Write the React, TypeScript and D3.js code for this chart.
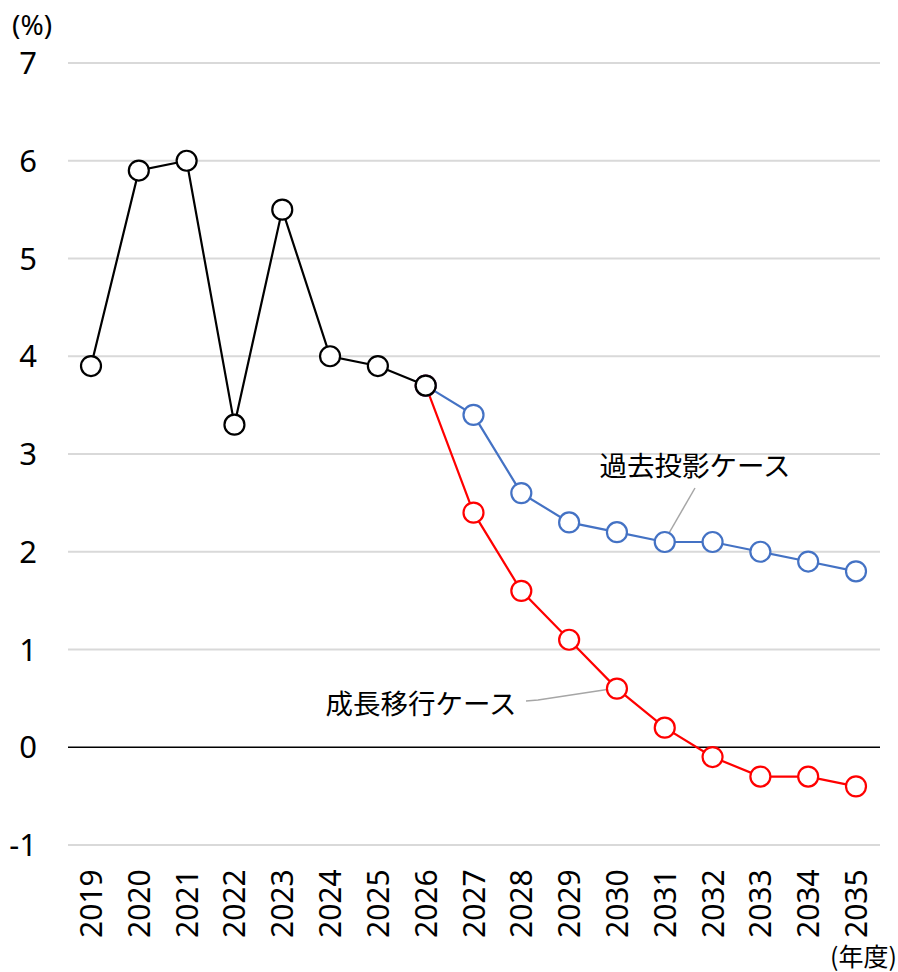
import React, { useEffect, useRef } from "react";
import * as d3 from "d3";

const years = [2019, 2020, 2021, 2022, 2023, 2024, 2025, 2026, 2027, 2028, 2029, 2030, 2031, 2032, 2033, 2034, 2035];
const actual = [3.9, 5.9, 6.0, 3.3, 5.5, 4.0, 3.9, 3.7];
const pastProjection = [3.7, 3.4, 2.6, 2.3, 2.2, 2.1, 2.1, 2.0, 1.9, 1.8];
const growthTransition = [3.7, 2.4, 1.6, 1.1, 0.6, 0.2, -0.1, -0.3, -0.3, -0.4];
const yTicks = [-1, 0, 1, 2, 3, 4, 5, 6, 7];

const W = 898;
const H = 972;
const font = "'Noto Sans', 'Noto Sans CJK JP', sans-serif";
const jpFont = "'Noto Sans CJK JP', sans-serif";

export default function App() {
    const svgRef = useRef<SVGSVGElement>(null);

    useEffect(() => {
        const svg = d3.select(svgRef.current);
        svg.selectAll("*").remove();

        const x = d3.scalePoint<number>().domain(years).range([91, 856]);
        const y = d3.scaleLinear().domain([-1, 7]).range([845, 63]);

        // gridlines
        svg.append("g").selectAll("line").data(yTicks).enter().append("line")
            .attr("x1", 68).attr("x2", 880)
            .attr("y1", d => y(d)).attr("y2", d => y(d))
            .style("stroke", d => d === 0 ? "#000" : "#d9d9d9")
            .style("stroke-width", d => d === 0 ? 1.5 : 2);

        // y tick labels
        svg.append("g").selectAll("text").data(yTicks).enter().append("text")
            .attr("x", 37).attr("y", d => y(d))
            .attr("dy", "0.36em")
            .attr("text-anchor", "end")
            .style("font-family", font).style("font-size", "31px")
            .text(d => d);

        // x tick labels (rotated)
        svg.append("g").selectAll("text").data(years).enter().append("text")
            .attr("transform", d => `translate(${x(d)! + 11},938) rotate(-90)`)
            .attr("text-anchor", "start")
            .style("font-family", font).style("font-size", "30px")
            .text(d => d);

        svg.append("text").attr("x", 12).attr("y", 35)
            .style("font-family", font).style("font-size", "28px").text("(%)");
        svg.append("text").attr("x", 897).attr("y", 966).attr("text-anchor", "end")
            .style("font-family", jpFont).style("font-size", "25px").text("(年度)");

        // leader lines
        svg.append("line").attr("x1", 665).attr("y1", 540).attr("x2", 695).attr("y2", 488)
            .style("stroke", "#a6a6a6").style("stroke-width", 1.5);
        svg.append("polyline").attr("points", "526,701 538,700 617,688")
            .style("stroke", "#a6a6a6").style("stroke-width", 1.5).style("fill", "none");

        svg.append("text").attr("x", 695).attr("y", 476).attr("text-anchor", "middle")
            .style("font-family", jpFont).style("font-size", "27.5px").text("過去投影ケース");
        svg.append("text").attr("x", 421).attr("y", 714).attr("text-anchor", "middle")
            .style("font-family", jpFont).style("font-size", "27.5px").text("成長移行ケース");

        const line = d3.line<[number, number]>().x(d => x(d[0])!).y(d => y(d[1]));

        const drawSeries = (vals: number[], offset: number, color: string) => {
            const pts = vals.map((v, i) => [years[i + offset], v] as [number, number]);
            svg.append("path").datum(pts).attr("d", line)
                .style("fill", "none").style("stroke", color).style("stroke-width", 2.2);
            svg.append("g").selectAll("circle").data(pts).enter().append("circle")
                .attr("cx", d => x(d[0])!).attr("cy", d => y(d[1])).attr("r", 10)
                .style("fill", "#fff").style("stroke", color).style("stroke-width", 2.2);
        };

        drawSeries(growthTransition, 7, "#ff0000");
        drawSeries(pastProjection, 7, "#4472c4");
        drawSeries(actual, 0, "#000000");
    }, []);

    return (
        <svg ref={svgRef} width={W} height={H} style={{ position: "absolute", left: 0, top: 0 }} />
    );
}
